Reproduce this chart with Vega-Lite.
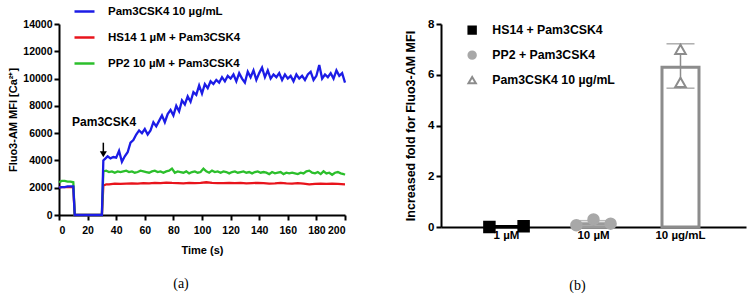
{
  "$schema": "https://vega.github.io/schema/vega-lite/v6.json",
  "background": "white",
  "padding": {"left": 7, "top": 0, "right": 2, "bottom": 0},
  "config": {
    "font": "Liberation Sans",
    "view": {"stroke": null},
    "axis": {
      "grid": false, "domainColor": "black", "domainWidth": 2, "tickColor": "black", "tickWidth": 2, "tickSize": 5,
      "labelFont": "Liberation Sans", "labelFontWeight": "bold", "labelFontSize": 10.5, "labelColor": "black",
      "titleFont": "Liberation Sans", "titleFontWeight": "bold", "titleFontSize": 11, "titleColor": "black"
    },
    "legend": {"labelFont": "Liberation Sans", "labelFontWeight": "bold", "labelFontSize": 11.5, "labelColor": "black"}
  },
  "resolve": {
    "scale": {"color": "independent", "shape": "independent", "fill": "independent", "stroke": "independent"},
    "legend": {"color": "independent", "shape": "independent", "fill": "independent", "stroke": "independent"}
  },
  "datasets": {
    "blue": [
      {"t":0,"v":2000},{"t":2,"v":2050},{"t":4,"v":2050},{"t":6,"v":2100},{"t":8,"v":2100},{"t":10,"v":2100},{"t":11,"v":0},{"t":30,"v":0},
      {"t":31,"v":4000},{"t":32,"v":4100},{"t":34,"v":4300},{"t":36,"v":4150},{"t":38,"v":4250},{"t":40,"v":4200},{"t":42,"v":4700},{"t":44,"v":3900},
      {"t":46,"v":4300},{"t":48,"v":4600},{"t":50,"v":5300},{"t":52,"v":5500},{"t":54,"v":5900},{"t":56,"v":6200},{"t":58,"v":6000},{"t":60,"v":6300},
      {"t":62,"v":5900},{"t":64,"v":6200},{"t":66,"v":6800},{"t":68,"v":6500},{"t":70,"v":6900},{"t":72,"v":7300},{"t":74,"v":6800},{"t":76,"v":7400},
      {"t":78,"v":7700},{"t":80,"v":7300},{"t":82,"v":8000},{"t":84,"v":7600},{"t":86,"v":8400},{"t":88,"v":8100},{"t":90,"v":8700},{"t":92,"v":8300},
      {"t":94,"v":9000},{"t":96,"v":8800},{"t":98,"v":9500},{"t":100,"v":8900},{"t":102,"v":9600},{"t":104,"v":9300},{"t":106,"v":9800},{"t":108,"v":9600},
      {"t":110,"v":9900},{"t":112,"v":9700},{"t":114,"v":10100},{"t":116,"v":9800},{"t":118,"v":10200},{"t":120,"v":10000},{"t":122,"v":10300},{"t":124,"v":9800},
      {"t":126,"v":10400},{"t":128,"v":10000},{"t":130,"v":9700},{"t":132,"v":10500},{"t":134,"v":10100},{"t":136,"v":10600},{"t":138,"v":9900},{"t":140,"v":10400},
      {"t":142,"v":10800},{"t":144,"v":10100},{"t":146,"v":10600},{"t":148,"v":10000},{"t":150,"v":10300},{"t":152,"v":10100},{"t":154,"v":10400},{"t":156,"v":9900},
      {"t":158,"v":10300},{"t":160,"v":10000},{"t":162,"v":10200},{"t":164,"v":9800},{"t":166,"v":10300},{"t":168,"v":10000},{"t":170,"v":10200},{"t":172,"v":9900},
      {"t":174,"v":10300},{"t":176,"v":10500},{"t":178,"v":9900},{"t":180,"v":10200},{"t":182,"v":11000},{"t":184,"v":10000},{"t":186,"v":10300},{"t":188,"v":10100},
      {"t":190,"v":10400},{"t":192,"v":10000},{"t":194,"v":10600},{"t":196,"v":10200},{"t":198,"v":10400},{"t":200,"v":9700}
    ],
    "red": [
      {"t":0,"v":2050},{"t":10,"v":2050},{"t":11,"v":0},{"t":30,"v":0},{"t":31,"v":2150},{"t":33,"v":2250},{"t":35,"v":2250},{"t":39,"v":2300},
      {"t":43,"v":2280},{"t":47,"v":2300},{"t":51,"v":2320},{"t":55,"v":2300},{"t":59,"v":2330},{"t":63,"v":2320},{"t":67,"v":2350},{"t":71,"v":2330},
      {"t":75,"v":2380},{"t":79,"v":2350},{"t":83,"v":2340},{"t":87,"v":2320},{"t":91,"v":2350},{"t":95,"v":2330},{"t":99,"v":2360},{"t":103,"v":2400},
      {"t":107,"v":2350},{"t":111,"v":2340},{"t":115,"v":2330},{"t":119,"v":2360},{"t":123,"v":2340},{"t":127,"v":2350},{"t":131,"v":2320},{"t":135,"v":2340},
      {"t":139,"v":2360},{"t":143,"v":2330},{"t":147,"v":2300},{"t":151,"v":2320},{"t":155,"v":2350},{"t":159,"v":2320},{"t":163,"v":2300},{"t":167,"v":2330},
      {"t":171,"v":2300},{"t":175,"v":2250},{"t":179,"v":2280},{"t":183,"v":2300},{"t":187,"v":2280},{"t":191,"v":2300},{"t":195,"v":2280},{"t":200,"v":2250}
    ],
    "green": [
      {"t":0,"v":2400},{"t":2,"v":2500},{"t":4,"v":2500},{"t":6,"v":2450},{"t":8,"v":2450},{"t":10,"v":2400},{"t":11,"v":0},{"t":30,"v":0},
      {"t":31,"v":3200},{"t":33,"v":3250},{"t":35,"v":3150},{"t":37,"v":3200},{"t":39,"v":3100},{"t":41,"v":3200},{"t":43,"v":3150},{"t":45,"v":3200},
      {"t":47,"v":3250},{"t":49,"v":3150},{"t":51,"v":3200},{"t":53,"v":3100},{"t":55,"v":3150},{"t":57,"v":3250},{"t":59,"v":3200},{"t":61,"v":3150},
      {"t":63,"v":3100},{"t":65,"v":3200},{"t":67,"v":3250},{"t":69,"v":3150},{"t":71,"v":3200},{"t":73,"v":3100},{"t":75,"v":3200},{"t":77,"v":3250},
      {"t":79,"v":3400},{"t":81,"v":3100},{"t":83,"v":3200},{"t":85,"v":3150},{"t":87,"v":3100},{"t":89,"v":3200},{"t":91,"v":3050},{"t":93,"v":3150},
      {"t":95,"v":3200},{"t":97,"v":3100},{"t":99,"v":3150},{"t":101,"v":3400},{"t":103,"v":3200},{"t":105,"v":3100},{"t":107,"v":3250},{"t":109,"v":3150},
      {"t":111,"v":3200},{"t":113,"v":3100},{"t":115,"v":3200},{"t":117,"v":3150},{"t":119,"v":3050},{"t":121,"v":3150},{"t":123,"v":3200},{"t":125,"v":3100},
      {"t":127,"v":3150},{"t":129,"v":3200},{"t":131,"v":3100},{"t":133,"v":3150},{"t":135,"v":3050},{"t":137,"v":3150},{"t":139,"v":3200},{"t":141,"v":3100},
      {"t":143,"v":3150},{"t":145,"v":3100},{"t":147,"v":3000},{"t":149,"v":3150},{"t":151,"v":3050},{"t":153,"v":3100},{"t":155,"v":3150},{"t":157,"v":3000},
      {"t":159,"v":3100},{"t":161,"v":3050},{"t":163,"v":3100},{"t":165,"v":3050},{"t":167,"v":3000},{"t":169,"v":3100},{"t":171,"v":3050},{"t":173,"v":3200},
      {"t":175,"v":3250},{"t":177,"v":3100},{"t":179,"v":3050},{"t":181,"v":3150},{"t":183,"v":3000},{"t":185,"v":3200},{"t":187,"v":3050},{"t":189,"v":3100},
      {"t":191,"v":2950},{"t":193,"v":3100},{"t":195,"v":3150},{"t":197,"v":3050},{"t":199,"v":3000},{"t":200,"v":2950}
    ],
    "means": [
      {"cat":"1 µM","grp":"HS14 + Pam3CSK4","mean":0.02,"lo":0.0,"hi":0.03},
      {"cat":"10 µM","grp":"PP2 + Pam3CSK4","mean":0.13,"lo":0.03,"hi":0.25},
      {"cat":"10 µg/mL","grp":"Pam3CSK4 10 µg/mL","mean":6.3,"lo":5.47,"hi":7.22}
    ],
    "points": [
      {"cat":"1 µM","grp":"HS14 + Pam3CSK4","rep":"a","val":0.0},
      {"cat":"1 µM","grp":"HS14 + Pam3CSK4","rep":"c","val":0.03},
      {"cat":"10 µM","grp":"PP2 + Pam3CSK4","rep":"a","val":0.07},
      {"cat":"10 µM","grp":"PP2 + Pam3CSK4","rep":"b","val":0.3},
      {"cat":"10 µM","grp":"PP2 + Pam3CSK4","rep":"c","val":0.13},
      {"cat":"10 µg/mL","grp":"Pam3CSK4 10 µg/mL","rep":"b","val":7.0},
      {"cat":"10 µg/mL","grp":"Pam3CSK4 10 µg/mL","rep":"b","val":5.7}
    ]
  },
  "hconcat": [
    {
      "width": 286,
      "height": 191,
      "title": {"text": "(a)", "orient": "bottom", "font": "Liberation Serif", "fontSize": 14, "fontWeight": "normal", "color": "black", "offset": 21, "dx": -21},
      "encoding": {
        "x": {"field": "t", "type": "quantitative", "scale": {"domain": [0, 200], "nice": false},
              "axis": {"title": "Time (s)", "values": [0,20,40,60,80,100,120,140,160,180,200], "labelPadding": 5, "titlePadding": 9}},
        "y": {"field": "v", "type": "quantitative", "scale": {"domain": [0, 14000], "nice": false},
              "axis": {"title": "Fluo3-AM MFI [Ca²⁺]", "format": "d", "values": [0,2000,4000,6000,8000,10000,12000,14000], "titlePadding": 4}}
      },
      "layer": [
        {
          "data": {"name": "red"},
          "mark": {"type": "line", "strokeWidth": 2.3},
          "encoding": {"color": {"datum": "HS14 1 µM + Pam3CSK4", "type": "nominal",
            "scale": {"domain": ["Pam3CSK4 10 µg/mL", "HS14 1 µM + Pam3CSK4", "PP2 10 µM + Pam3CSK4"], "range": ["#1c1ce6", "#e8141c", "#2cbf2c"]},
            "legend": {"title": null, "orient": "none", "legendX": 14, "legendY": -24, "symbolType": "stroke", "symbolSize": 400, "symbolStrokeWidth": 2.5, "rowPadding": 9, "labelOffset": 12}}}
        },
        {
          "data": {"name": "green"},
          "mark": {"type": "line", "strokeWidth": 2.3},
          "encoding": {"color": {"datum": "PP2 10 µM + Pam3CSK4", "type": "nominal"}}
        },
        {
          "data": {"name": "blue"},
          "mark": {"type": "line", "strokeWidth": 2.3},
          "encoding": {"color": {"datum": "Pam3CSK4 10 µg/mL", "type": "nominal"}}
        },
        {
          "data": {"values": [{"t": 31, "v": 5300, "v2": 4500}]},
          "mark": {"type": "rule", "color": "black", "strokeWidth": 1.5},
          "encoding": {"y2": {"field": "v2"}}
        },
        {
          "data": {"values": [{"t": 31, "v": 4450}]},
          "mark": {"type": "point", "shape": "triangle-down", "filled": true, "color": "black", "size": 50, "opacity": 1},
          "encoding": {}
        },
        {
          "data": {"values": [{"t": 31.5, "v": 6850, "label": "Pam3CSK4"}]},
          "mark": {"type": "text", "font": "Liberation Sans", "fontWeight": "bold", "fontSize": 12, "color": "black"},
          "encoding": {"text": {"field": "label"}}
        }
      ]
    },
    {
      "width": 305,
      "height": 203,
      "title": {"text": "(b)", "orient": "bottom", "font": "Liberation Serif", "fontSize": 14, "fontWeight": "normal", "color": "black", "offset": 38, "dx": -16},
      "encoding": {
        "x": {"field": "cat", "type": "nominal", "sort": ["1 µM", "10 µM", "10 µg/mL"],
              "scale": {"paddingInner": 0.41, "paddingOuter": 0.458},
              "axis": {"title": null, "ticks": false, "labelAngle": 0, "labelPadding": 2, "labelFontSize": 11.5}}
      },
      "layer": [
        {
          "data": {"name": "means"},
          "mark": {"type": "bar", "filled": false, "strokeWidth": 3, "width": 37},
          "encoding": {
            "y": {"field": "mean", "type": "quantitative", "scale": {"domain": [0, 8], "nice": false},
                  "axis": {"title": "Increased fold for Fluo3-AM MFI", "titleFontSize": 12.5, "values": [0,1,2,3,4,5,6,7,8], "labelFontSize": 11.5,
                           "labelExpr": "datum.value % 2 == 0 ? datum.label : ''", "titlePadding": 10}},
            "color": {"field": "cat", "type": "nominal", "legend": null,
                      "scale": {"domain": ["1 µM", "10 µM", "10 µg/mL"], "range": ["black", "#9a9a9a", "#8c8c8c"]}}
          }
        },
        {
          "data": {"name": "means"},
          "mark": {"type": "rule", "strokeWidth": 1.5},
          "encoding": {
            "y": {"field": "lo", "type": "quantitative"},
            "y2": {"field": "hi"},
            "color": {"field": "cat", "type": "nominal", "legend": null}
          }
        },
        {
          "data": {"name": "means"},
          "mark": {"type": "tick", "thickness": 1.5, "size": 28, "orient": "horizontal"},
          "encoding": {
            "y": {"field": "hi", "type": "quantitative"},
            "color": {"field": "cat", "type": "nominal", "legend": null}
          }
        },
        {
          "data": {"name": "means"},
          "mark": {"type": "tick", "thickness": 1.5, "size": 28, "orient": "horizontal"},
          "encoding": {
            "y": {"field": "lo", "type": "quantitative"},
            "color": {"field": "cat", "type": "nominal", "legend": null}
          }
        },
        {
          "data": {"name": "points"},
          "mark": {"type": "point", "strokeWidth": 2, "size": 110, "opacity": 1},
          "encoding": {
            "y": {"field": "val", "type": "quantitative"},
            "xOffset": {"field": "rep", "type": "nominal", "scale": {"domain": ["a", "b", "c"]}},
            "shape": {"field": "grp", "type": "nominal",
                      "scale": {"domain": ["HS14 + Pam3CSK4", "PP2 + Pam3CSK4", "Pam3CSK4 10 µg/mL"], "range": ["square", "circle", "triangle-up"]},
                      "legend": {"title": null, "orient": "none", "legendX": 25, "legendY": 0, "rowPadding": 9, "labelOffset": 14, "symbolSize": 55, "symbolStrokeWidth": 2, "labelFontSize": 12.3}},
            "fill": {"field": "grp", "type": "nominal",
                     "scale": {"domain": ["HS14 + Pam3CSK4", "PP2 + Pam3CSK4", "Pam3CSK4 10 µg/mL"], "range": ["black", "#a8a8a8", "white"]},
                     "legend": {"title": null, "orient": "none", "legendX": 25, "legendY": 0, "rowPadding": 9, "labelOffset": 14, "symbolSize": 55, "symbolStrokeWidth": 2, "labelFontSize": 12.3}},
            "stroke": {"field": "grp", "type": "nominal",
                       "scale": {"domain": ["HS14 + Pam3CSK4", "PP2 + Pam3CSK4", "Pam3CSK4 10 µg/mL"], "range": ["black", "#a8a8a8", "#8c8c8c"]},
                       "legend": {"title": null, "orient": "none", "legendX": 25, "legendY": 0, "rowPadding": 9, "labelOffset": 14, "symbolSize": 55, "symbolStrokeWidth": 2, "labelFontSize": 12.3}}
          }
        }
      ]
    }
  ],
  "spacing": 54
}
